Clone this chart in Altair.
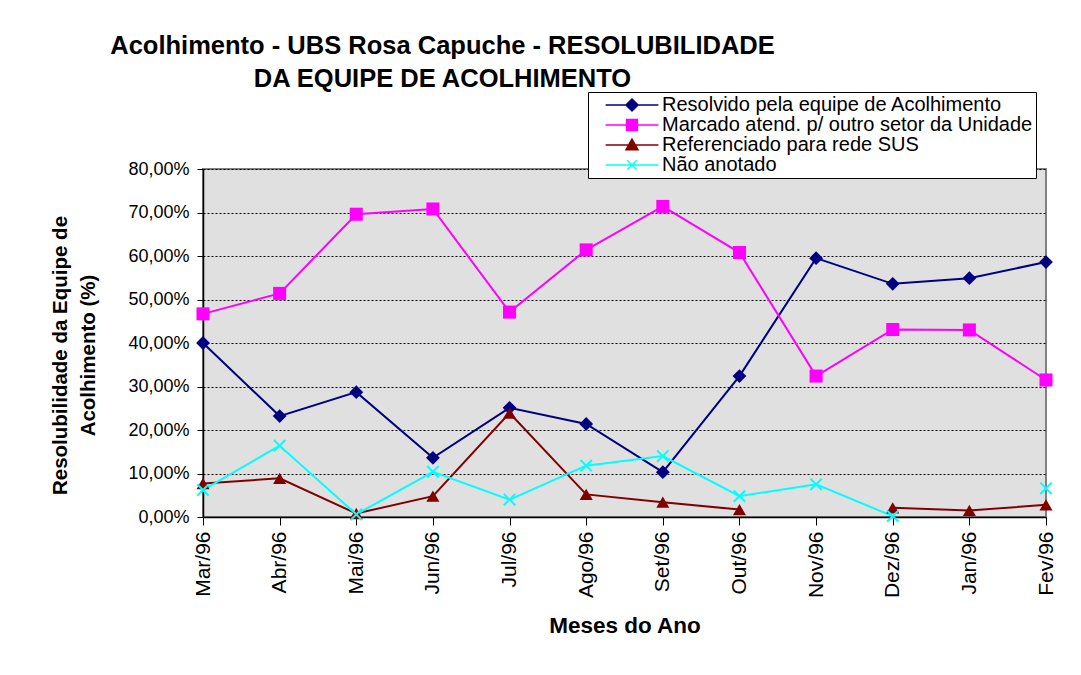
import altair as alt
import pandas as pd

months = ["Mar/96", "Abr/96", "Mai/96", "Jun/96", "Jul/96", "Ago/96",
          "Set/96", "Out/96", "Nov/96", "Dez/96", "Jan/96", "Fev/96"]
series = ["Resolvido pela equipe de Acolhimento",
          "Marcado atend. p/ outro setor da Unidade",
          "Referenciado para rede SUS",
          "Não anotado"]
resolvido = [0.400, 0.232, 0.287, 0.136, 0.251, 0.214, 0.103, 0.324, 0.595, 0.536, 0.549, 0.586]
marcado = [0.467, 0.514, 0.696, 0.708, 0.471, 0.614, 0.714, 0.608, 0.324, 0.431, 0.430, 0.315]
referenciado = [0.077, 0.089, 0.008, 0.048, 0.239, 0.052, 0.034, 0.017, None, 0.021, 0.015, 0.028]
nao_anotado = [0.062, 0.164, 0.006, 0.104, 0.040, 0.118, 0.140, 0.048, 0.075, 0.002, None, 0.066]
colors = ["#000080", "#FF00FF", "#800000", "#00FFFF"]
y_ticks = [0.0, 0.1, 0.2, 0.3, 0.4, 0.5, 0.6, 0.7, 0.8]

rows = []
for name, vals in zip(series, [resolvido, marcado, referenciado, nao_anotado]):
    for m, v in zip(months, vals):
        rows.append({"mes": m, "serie": name, "valor": v})
df = pd.DataFrame(rows)

x_enc = alt.X("mes:O", sort=months, scale=alt.Scale(padding=0),
              axis=alt.Axis(title="Meses do Ano", labelAngle=-90, labelFontSize=21,
                            labelColor="black", labelPadding=6, labelBaseline="middle",
                            labelAlign="right",
                            titleFontSize=22.5, titleFontWeight="bold", titleColor="black",
                            titlePadding=17, tickSize=8, tickColor="black",
                            domainColor="black", domainWidth=1.5, grid=False))
y_enc = alt.Y("valor:Q", scale=alt.Scale(domain=[0, 0.8], nice=False),
              axis=alt.Axis(title=["Resolubilidade da Equipe de", "Acolhimento (%)"],
                            values=y_ticks,
                            labelExpr="replace(format(datum.value, '.2%'), '.', ',')",
                            labelFontSize=18, labelColor="black", labelPadding=8,
                            titleFontSize=20.5, titleFontWeight="bold", titleColor="black",
                            titleLineHeight=28, titlePadding=29, titleY=186,
                            tickSize=6, tickColor="black",
                            domainColor="black", domainWidth=1.5,
                            grid=True, gridColor="black", gridDash=[2, 2], gridWidth=1))

color_scale = alt.Scale(domain=series, range=colors)

legend_shapes = [
    "M-4.4,0H4.4M-1,0L0,-1L1,0L0,1Z",
    "M-4.4,0H4.4M-0.9,-0.9H0.9V0.9H-0.9Z",
    "M-4.4,0H4.4M0,-1L1,0.8H-1Z",
    "M-4.4,0H4.4M-0.8,-0.8L0.8,0.8M-0.8,0.8L0.8,-0.8",
]
legend_def = alt.Legend(title=None, orient="none", legendX=385, legendY=-77,
                        labelFontSize=20, labelColor="black", labelFont="Liberation Sans",
                        labelLimit=0,
                        symbolSize=144, symbolStrokeWidth=1.5, symbolOffset=31,
                        symbolOpacity=1,
                        labelOffset=20, rowPadding=0, padding=3,
                        strokeColor="black", fillColor="white", cornerRadius=0)

lines = alt.Chart(df).mark_line(strokeWidth=2, invalid="break-paths-show-domains").encode(
    x=x_enc, y=y_enc,
    color=alt.Color("serie:N", scale=color_scale, legend=legend_def),
    detail="serie:N",
)

marker_specs = [
    (series[0], "diamond", True, 190, 1),
    (series[1], "square", True, 170, 1),
    (series[2], "triangle-up", True, 170, 1),
    (series[3], "M-1,-1L1,1M-1,1L1,-1", False, 130, 2),
]
point_layers = []
for name, shape, filled, size, sw in marker_specs:
    point_layers.append(
        alt.Chart(df).transform_filter(alt.datum.serie == name)
        .transform_filter("isValid(datum.valor)")
        .mark_point(shape=shape, filled=filled, size=size, strokeWidth=sw, opacity=1)
        .encode(x=x_enc, y=y_enc,
                color=alt.Color("serie:N", scale=color_scale, legend=None))
    )

legend_layer = alt.Chart(df).mark_point(filled=True, size=0).encode(
    x=x_enc, y=y_enc,
    fill=alt.Fill("serie:N", scale=color_scale, legend=legend_def),
    stroke=alt.Stroke("serie:N", scale=color_scale, legend=legend_def),
    shape=alt.Shape("serie:N", scale=alt.Scale(domain=series, range=legend_shapes),
                    legend=legend_def),
)

chart = alt.layer(lines, *point_layers, legend_layer).properties(
    width=843, height=348,
    title=alt.TitleParams(
        text=["Acolhimento - UBS Rosa Capuche - RESOLUBILIDADE", "DA EQUIPE DE ACOLHIMENTO"],
        anchor="middle", dx=-182, dy=1, fontSize=25.5, fontWeight="bold", color="black",
        font="Liberation Sans", lineHeight=33, offset=0),
    autosize=alt.AutoSizeParams(type="none"),
    padding={"left": 195, "top": 161, "right": 20, "bottom": 150},
).configure(
    font="Liberation Sans",
).configure_view(
    fill="#E0E0E0", stroke="#808080", strokeWidth=2,
).configure_axis(
    labelFont="Liberation Sans", titleFont="Liberation Sans",
)

chart.save("out.html", embed_options={"renderer": "svg", "actions": False})
